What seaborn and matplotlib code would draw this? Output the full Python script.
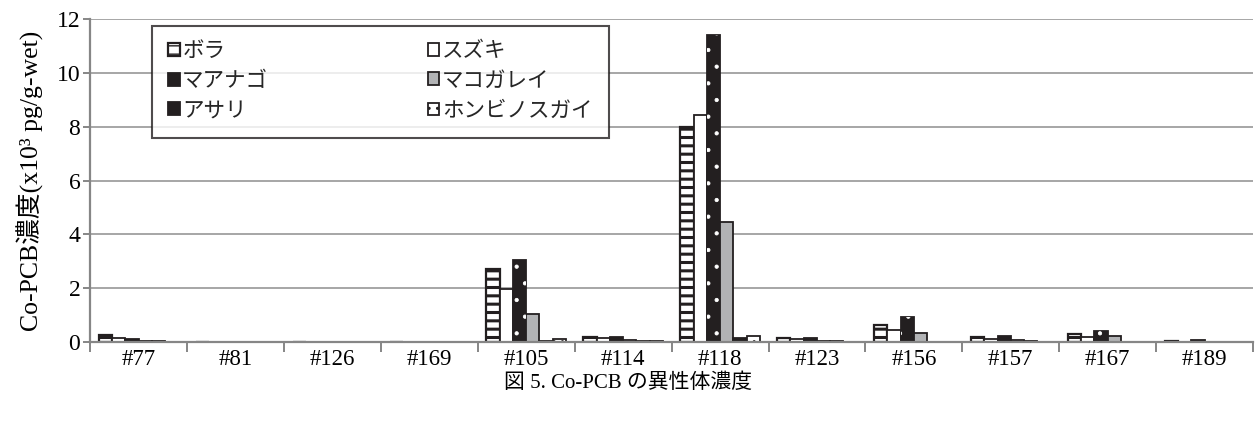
import matplotlib
matplotlib.use("Agg")
import matplotlib.pyplot as plt
import seaborn as sns
import pandas as pd

isomers = ["#77", "#81", "#126", "#169", "#105", "#114",
           "#118", "#123", "#156", "#157", "#167", "#189"]
species = ["ボラ", "スズキ", "マアナゴ", "マコガレイ", "アサリ", "ホンビノスガイ"]

bora = [0.25, 0.0, 0.0, 0.0, 2.70, 0.20, 8.00, 0.15, 0.62, 0.17, 0.30, 0.02]
suzuki = [0.15, 0.0, 0.0, 0.0, 1.97, 0.13, 8.45, 0.12, 0.45, 0.12, 0.20, 0.01]
maanago = [0.12, 0.0, 0.0, 0.0, 3.03, 0.17, 11.40, 0.15, 0.92, 0.22, 0.42, 0.08]
makogarei = [0.05, 0.0, 0.0, 0.0, 1.03, 0.07, 4.45, 0.05, 0.32, 0.08, 0.24, 0.01]
asari = [0.02, 0.0, 0.0, 0.0, 0.03, 0.02, 0.15, 0.02, 0.01, 0.02, 0.01, 0.01]
honbinosu = [0.01, 0.0, 0.0, 0.0, 0.10, 0.02, 0.22, 0.01, 0.01, 0.01, 0.01, 0.01]

yticks = [0, 2, 4, 6, 8, 10, 12]

series = [bora, suzuki, maanago, makogarei, asari, honbinosu]
df = pd.DataFrame({
    "isomer": isomers * len(species),
    "species": [s for s in species for _ in isomers],
    "value": [v for vals in series for v in vals],
})

sns.set_theme(style="white")
plt.rcParams["font.family"] = ["Liberation Serif", "Noto Sans CJK JP"]
plt.rcParams["hatch.linewidth"] = 1.0

ink = "#231f20"
fig = plt.figure(figsize=(12.56, 4.23), dpi=100)
ax = fig.add_axes([0.0717, 0.1915, 0.926, 0.7635])

sns.barplot(data=df, x="isomer", y="value", hue="species", order=isomers,
            hue_order=species, palette=["white"] * 6, width=0.82,
            saturation=1, legend=False, ax=ax, zorder=3)

# fill / hatch style for each species
styles = [
    dict(fc="white", ec=ink, hatch="--", hlw=2.2, lw=1.6),
    dict(fc="white", ec=ink, hatch=None, hlw=1.0, lw=1.3),
    dict(fc=ink, ec=ink, hatch=None, hlw=1.0, lw=1.3),
    dict(fc="#b2b3b5", ec=ink, hatch=None, hlw=1.0, lw=1.3),
    dict(fc=ink, ec=ink, hatch=None, hlw=1.0, lw=1.3),
    dict(fc="white", ec=ink, hatch="..", hlw=1.0, lw=1.3),
]
for cont, st in zip(ax.containers, styles):
    for p in cont.patches:
        p.set_facecolor(st["fc"])
        p.set_edgecolor(st["ec"])
        p.set_linewidth(st["lw"])
        if st["hatch"]:
            p.set_hatch(st["hatch"])
            if hasattr(p, "set_hatch_linewidth"):
                p.set_hatch_linewidth(st["hlw"])

# white dots running down the マアナゴ bars
for p in ax.containers[2].patches:
    dots = plt.Rectangle(p.get_xy(), p.get_width(), p.get_height(),
                         fill=False, edgecolor="white", linewidth=0,
                         hatch=".", zorder=4)
    if hasattr(dots, "set_hatch_linewidth"):
        dots.set_hatch_linewidth(0.6)
    ax.add_patch(dots)

ax.set_ylim(0, 12)
ax.set_yticks(yticks)
ax.set_xlim(-0.5, len(isomers) - 0.5)
ax.yaxis.grid(True, color="#a6a6a6", linewidth=1.4, zorder=0)
ax.set_axisbelow(True)

for side in ["top", "right"]:
    ax.spines[side].set_visible(False)
for side in ["left", "bottom"]:
    ax.spines[side].set_color("#868686")
    ax.spines[side].set_linewidth(1.6)
    ax.spines[side].set_zorder(5)

# category boundaries carry the x ticks; labels sit at the centres
ax.set_xticks([i - 0.5 for i in range(len(isomers) + 1)], minor=False)
ax.set_xticklabels([])
ax.set_xticks(range(len(isomers)), minor=True)
ax.set_xticklabels(isomers, minor=True)
ax.tick_params(axis="x", which="major", direction="out", length=7,
               width=1.4, color="#868686", bottom=True)
ax.tick_params(axis="x", which="minor", length=0, labelsize=16.5, pad=5,
               labelcolor="black")
ax.tick_params(axis="y", direction="out", length=5, width=1.4,
               color="#868686", left=True, labelsize=17, pad=2,
               labelcolor="black")

ax.set_xlabel("")
ax.set_ylabel("Co-PCB濃度(x10³ pg/g-wet)", fontsize=18.5, color="black",
              labelpad=9)

handles = [ax.containers[i] for i in [0, 2, 4, 1, 3, 5]]
labels = [species[i] for i in [0, 2, 4, 1, 3, 5]]
leg = ax.legend(handles, labels, ncol=2, loc="upper left",
                bbox_to_anchor=(0.053, 0.978), fontsize=15.5,
                frameon=True, fancybox=False, shadow=False,
                handlelength=0.55, handleheight=0.55, handletextpad=0.12,
                columnspacing=7.4, labelspacing=0.5, borderpad=0.75,
                borderaxespad=0)
leg.get_frame().set_edgecolor(ink)
leg.get_frame().set_linewidth(1.5)
leg.get_frame().set_facecolor("white")
leg.set_zorder(6)

fig.text(0.5, 0.095, "図 5. Co-PCB の異性体濃度", ha="center", va="center",
         fontsize=15, color="black")

fig.savefig("out.png", dpi=100)
